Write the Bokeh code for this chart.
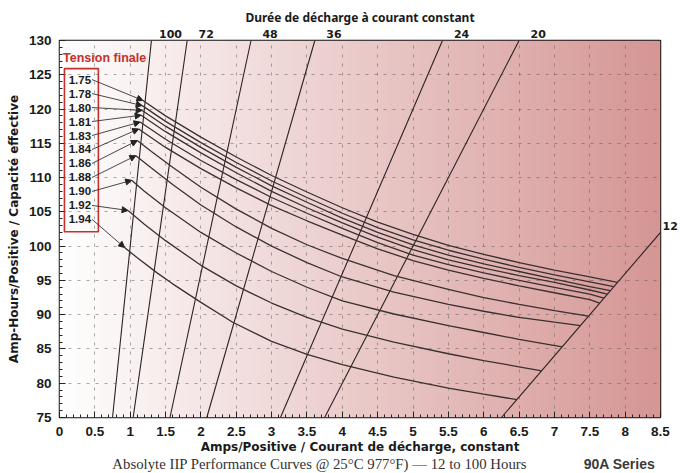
import numpy as np
from bokeh.plotting import figure
from bokeh.layouts import column
from bokeh.models import (Range1d, Label, LabelSet, ColumnDataSource, Arrow, LinearAxis,
                          NormalHead, BoxAnnotation, SingleIntervalTicker, FixedTicker)
from bokeh.core.properties import value
from bokeh.embed import file_html
from bokeh.resources import INLINE

# ---------------- data ----------------
voltages = ["1.75", "1.78", "1.80", "1.81", "1.83", "1.84", "1.86", "1.88", "1.90", "1.92", "1.94"]

v175_x = [1.18, 1.5, 2.0, 2.5, 3.0, 3.5, 4.0, 4.5, 5.0, 5.5, 6.0, 6.5, 7.0, 7.5, 7.89]
v175_y = [121.25, 119.0, 115.9, 113.0, 110.3, 107.9, 105.6, 103.5, 101.7, 100.1, 98.8, 97.6, 96.5, 95.5, 94.7]
v178_x = [1.17, 1.5, 2.0, 2.5, 3.0, 3.5, 4.0, 4.5, 5.0, 5.5, 6.0, 6.5, 7.0, 7.5, 7.84]
v178_y = [120.5, 118.2, 115.1, 112.2, 109.5, 107.1, 104.8, 102.7, 100.9, 99.4, 98.1, 96.9, 95.8, 94.8, 94.1]
v180_x = [1.17, 1.5, 2.0, 2.5, 3.0, 3.5, 4.0, 4.5, 5.0, 5.5, 6.0, 6.5, 7.0, 7.5, 7.79]
v180_y = [119.8, 117.5, 114.4, 111.5, 108.8, 106.4, 104.1, 102.0, 100.2, 98.7, 97.4, 96.3, 95.2, 94.1, 93.5]
v181_x = [1.155, 1.5, 2.0, 2.5, 3.0, 3.5, 4.0, 4.5, 5.0, 5.5, 6.0, 6.5, 7.0, 7.5, 7.75]
v181_y = [119.1, 116.7, 113.6, 110.7, 108.0, 105.6, 103.4, 101.3, 99.5, 98.0, 96.8, 95.7, 94.7, 93.6, 93.0]
v183_x = [1.14, 1.5, 2.0, 2.5, 3.0, 3.5, 4.0, 4.5, 5.0, 5.5, 6.0, 6.5, 7.0, 7.5, 7.70]
v183_y = [118.1, 115.6, 112.5, 109.7, 107.1, 104.8, 102.6, 100.5, 98.7, 97.3, 96.1, 95.0, 94.0, 93.0, 92.4]
v184_x = [1.12, 1.5, 2.0, 2.5, 3.0, 3.5, 4.0, 4.5, 5.0, 5.5, 6.0, 6.5, 7.0, 7.5, 7.64]
v184_y = [117.1, 114.4, 111.3, 108.5, 105.9, 103.7, 101.6, 99.6, 97.9, 96.5, 95.3, 94.2, 93.2, 92.2, 91.7]
v186_x = [1.10, 1.3, 1.6, 2.0, 2.5, 3.0, 3.5, 4.0, 4.73, 5.5, 6.0, 6.5, 7.0, 7.48]
v186_y = [115.4, 113.8, 111.5, 108.6, 105.4, 102.6, 100.2, 98.2, 95.7, 93.7, 92.5, 91.5, 90.6, 89.8]
v188_x = [1.08, 1.3, 1.6, 2.0, 2.5, 3.0, 3.5, 4.0, 4.73, 5.5, 6.0, 6.5, 7.0, 7.37]
v188_y = [113.2, 111.4, 109.0, 106.0, 102.8, 100.0, 97.6, 95.5, 93.3, 91.5, 90.5, 89.6, 88.9, 88.4]
v190_x = [1.02, 1.2, 1.5, 2.0, 2.5, 3.0, 3.5, 4.0, 4.73, 5.5, 6.0, 6.5, 7.11]
v190_y = [109.6, 108.0, 105.6, 102.0, 99.0, 96.3, 94.0, 92.0, 90.1, 88.4, 87.4, 86.4, 85.3]
v192_x = [0.97, 1.2, 1.5, 2.0, 2.5, 3.0, 3.5, 4.0, 4.73, 5.5, 6.0, 6.5, 6.82]
v192_y = [105.2, 103.2, 100.8, 97.2, 94.2, 91.7, 89.6, 87.9, 86.0, 84.3, 83.3, 82.4, 81.8]
v194_x = [0.92, 1.1, 1.38, 1.6, 2.0, 2.45, 3.0, 3.5, 4.0, 4.73, 5.5, 6.0, 6.47]
v194_y = [99.8, 98.3, 96.1, 94.5, 91.8, 88.9, 86.1, 84.2, 82.7, 80.9, 79.3, 78.4, 77.6]

curves_x = [v175_x, v178_x, v180_x, v181_x, v183_x, v184_x, v186_x, v188_x, v190_x, v192_x, v194_x]
curves_y = [v175_y, v178_y, v180_y, v181_y, v183_y, v184_y, v186_y, v188_y, v190_y, v192_y, v194_y]

hours = [100, 72, 48, 36, 24, 20, 12]
hour_labels = ["100", "72", "48", "36", "24", "20", "12"]

x_min, x_max = 0, 8.5
y_min, y_max = 75, 130

INK = "#1a1a1a"

# ---------------- main figure ----------------
p = figure(width=680, height=457, output_backend="svg", toolbar_location=None,
           x_range=Range1d(x_min, x_max), y_range=Range1d(y_min, y_max),
           min_border_left=59, min_border_right=17, min_border_top=40, min_border_bottom=40)
p.background_fill_color = "white"
p.border_fill_color = "white"
p.outline_line_color = "#111111"
p.outline_line_width = 1.5

# gradient background (white -> rose)
ncol = 256
t = np.linspace(0, 1, ncol)
img = np.zeros((2, ncol), dtype=np.uint32)
view = img.view(dtype=np.uint8).reshape((2, ncol, 4))
for row in range(2):
    view[row, :, 0] = (255 + (213 - 255) * t).astype(np.uint8)
    view[row, :, 1] = (255 + (150 - 255) * t).astype(np.uint8)
    view[row, :, 2] = (255 + (148 - 255) * t).astype(np.uint8)
    view[row, :, 3] = 255
bg = p.image_rgba(image=[img], x=x_min, y=y_min, dw=x_max - x_min, dh=y_max - y_min)
bg.level = "image"

# grid
for grid in (p.xgrid, p.ygrid):
    grid.grid_line_color = "#555555"
    grid.grid_line_alpha = 0.5
    grid.grid_line_dash = "3 6"
    grid.grid_line_width = 1
p.xgrid.ticker = SingleIntervalTicker(interval=0.5)
p.ygrid.ticker = SingleIntervalTicker(interval=5)

# axes
p.xaxis.ticker = SingleIntervalTicker(interval=0.5, num_minor_ticks=5)
p.yaxis.ticker = SingleIntervalTicker(interval=5, num_minor_ticks=5)
for ax in (p.xaxis, p.yaxis):
    ax.major_label_text_font = "Liberation Sans"
    ax.major_label_text_font_style = "bold"
    ax.major_label_text_font_size = "13.5px"
    ax.major_label_text_color = INK
    ax.axis_label_text_font = "DejaVu Sans"
    ax.axis_label_text_font_style = "bold"
    ax.axis_label_text_font_size = "12px"
    ax.axis_label_text_color = INK
    ax.axis_line_color = None
    ax.major_tick_in = 6
    ax.major_tick_out = 0
    ax.minor_tick_in = 3
    ax.minor_tick_out = 0
    ax.major_tick_line_color = "#222222"
    ax.minor_tick_line_color = "#222222"
p.xaxis.axis_label = "Amps/Positive / Courant de décharge, constant"
p.yaxis.axis_label = "Amp-Hours/Positive / Capacité effective"
p.xaxis.major_label_standoff = 9
p.yaxis.major_label_standoff = 8
p.xaxis.axis_label_standoff = 1
p.yaxis.axis_label_standoff = 5

# top axis: durations
top_hours = [h for h in hours if y_max / h <= x_max]
top_ticks = [y_max / h + 0.27 for h in top_hours]
top_axis = LinearAxis(ticker=FixedTicker(ticks=top_ticks, minor_ticks=[]),
                      major_label_overrides={tk: hour_labels[hours.index(h)] for tk, h in zip(top_ticks, top_hours)},
                      axis_label="Durée de décharge à courant constant")
top_axis.axis_line_color = None
top_axis.major_tick_in = 0
top_axis.major_tick_out = 0
top_axis.major_label_standoff = 3
top_axis.axis_label_standoff = 1
top_axis.major_label_text_font = "DejaVu Sans"
top_axis.major_label_text_font_style = "bold"
top_axis.major_label_text_font_size = "11px"
top_axis.major_label_text_color = INK
top_axis.axis_label_text_font = "Noto Sans"
top_axis.axis_label_text_font_style = "bold"
top_axis.axis_label_text_font_size = "12px"
top_axis.axis_label_text_color = INK
p.add_layout(top_axis, "above")

# right axis: the 12 h label
right_hours = [h for h in hours if y_max / h > x_max]
right_ticks = [h * x_max + 1.0 for h in right_hours]
right_axis = LinearAxis(ticker=FixedTicker(ticks=right_ticks, minor_ticks=[]),
                        major_label_overrides={tk: hour_labels[hours.index(h)] for tk, h in zip(right_ticks, right_hours)})
right_axis.axis_line_color = None
right_axis.major_tick_in = 0
right_axis.major_tick_out = 0
right_axis.major_label_standoff = 2
right_axis.major_label_text_font = "DejaVu Sans"
right_axis.major_label_text_font_style = "bold"
right_axis.major_label_text_font_size = "11px"
right_axis.major_label_text_color = INK
p.add_layout(right_axis, "right")

# constant-duration lines: Ah = A * h
hx0 = [y_min / h for h in hours]
hx1 = [y_max / h for h in hours]
p.segment(x0=hx0, y0=[y_min] * len(hours), x1=hx1, y1=[y_max] * len(hours),
          line_color="#2b2222", line_width=1.1)

# end-voltage curves
for xs, ys in zip(curves_x, curves_y):
    p.line(xs, ys, line_color="#3a3030", line_width=1.3)

# legend box of end voltages
p.add_layout(Label(x=0.05, y=y_max, y_offset=-17, text="Tension finale", text_align="left",
                   text_baseline="middle", text_font="Liberation Sans", text_font_style="bold",
                   text_font_size="12.5px", text_color="#c4302b"))
p.add_layout(BoxAnnotation(left=0.07, right=0.55, top=125.9, bottom=102.1, fill_alpha=0,
                           line_color="#c4302b", line_alpha=1, line_width=1.6))

lab_x = [0.13] * len(voltages)
lab_y = [124.3 - i * 2.04 for i in range(len(voltages))]
p.add_layout(LabelSet(x="x", y="y", text="text",
                      source=ColumnDataSource(dict(x=lab_x, y=lab_y, text=voltages)),
                      text_align="left", text_baseline="middle", text_font=value("Liberation Sans"),
                      text_font_style="bold", text_font_size="11.5px", text_color=INK))
arr_src = ColumnDataSource(dict(xs=[0.46] * len(voltages), ys=lab_y,
                                xe=[c[0] for c in curves_x], ye=[c[0] for c in curves_y]))
p.add_layout(Arrow(end=NormalHead(size=6, fill_color="#222222", line_color="#222222"),
                   x_start="xs", y_start="ys", x_end="xe", y_end="ye", source=arr_src,
                   line_color="#333333", line_width=0.9))

# ---------------- footer strip (frame aligned with the main plot) ----------------
foot = figure(width=680, height=16, output_backend="svg", toolbar_location=None,
              x_range=Range1d(x_min, x_max), y_range=Range1d(0, 1), min_border=0)
foot.axis.visible = False
foot.grid.visible = False
foot.outline_line_color = None
foot.background_fill_color = "white"
foot.text(x=[3.68], y=[0.62], text=["Absolyte IIP Performance Curves @ 25°C 977°F) — 12 to 100 Hours"],
          text_align="center", text_baseline="middle", text_font=value("Liberation Serif"),
          text_font_size="14.8px", text_color="#333333")
foot.text(x=[7.92], y=[0.62], text=["90A Series"], text_align="center", text_baseline="middle",
          text_font=value("Liberation Sans"), text_font_style="bold", text_font_size="14px",
          text_color="#3a3a3a")

layout = column(p, foot, spacing=0)
open("out.html", "w").write(file_html(layout, INLINE))
